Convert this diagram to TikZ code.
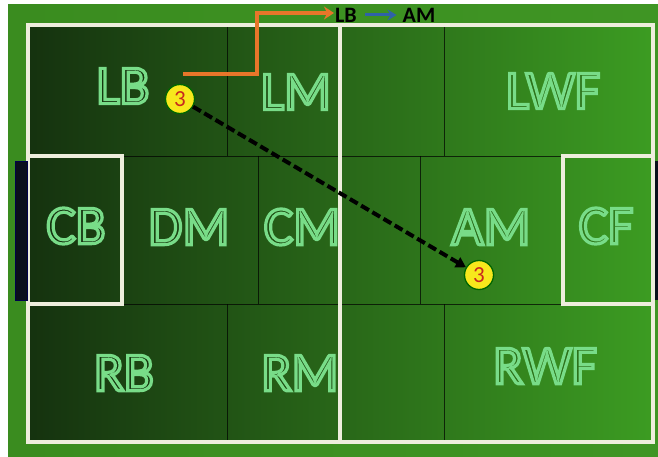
\documentclass[tikz,border=0pt]{standalone}
\usepackage{fontspec}
\setmainfont{Carlito}
\usetikzlibrary{arrows.meta,calc}
\definecolor{outerg}{HTML}{3A8C1F}
\definecolor{outerg2}{HTML}{3F9524}
\definecolor{pitchL}{HTML}{15320F}
\definecolor{pitchR}{HTML}{3C9C22}
\definecolor{lineW}{HTML}{EEEEDD}
\definecolor{outl}{HTML}{78DC88}
\definecolor{orangeA}{HTML}{E8762A}
\definecolor{blueA}{HTML}{2F62A8}
\definecolor{ballY}{HTML}{F7E81C}
\definecolor{numR}{HTML}{C8281E}
\definecolor{goalC}{HTML}{0A0F1C}
\def\commatospace#1,#2,#3\relax{#1 #2 #3}
\newcommand\outlinetext[2]{%
  \extractcolorspecs{#2}\lblmodel\lblspec
  \convertcolorspec{\lblmodel}{\lblspec}{rgb}\lblrgb
  \special{pdf:code 2 Tr 3.2 w \expandafter\commatospace\lblrgb\relax\space rg}#1\special{pdf:code 0 Tr 0.39848 w}}
\newcommand\zonelabel[4]{%
  \node[postxt] (#2) at (#1) {\outlinetext{#3}{#4}};
}
\begin{document}
\begin{tikzpicture}[x=1pt,y=-1pt,
  pline/.style={draw=lineW, line width=3.2pt},
  zone/.style={draw=black, line width=0.6pt, opacity=0.7},
  postxt/.style={font=\fontsize{55}{55}\selectfont, text=outl, inner sep=0pt, anchor=center},
  ball/.style={circle, fill=ballY, draw=black!60!green, line width=1.3pt, minimum size=29pt, inner sep=0pt, text=numR, font=\fontsize{23}{23}\selectfont},
  toptxt/.style={font=\fontsize{22}{22}\selectfont\bfseries, text=black, inner sep=1pt}
]
\useasboundingbox (0,0) rectangle (658,457);
\fill[white] (0,0) rectangle (658,457);
% outer field
\shade[left color=outerg, right color=outerg2] (8,5) rectangle (658,457);
% pitch gradient
\shade[left color=pitchL, right color=pitchR] (28,25) rectangle (653,442);
% zone lines
\draw[zone] (28,156) -- (653,156);
\draw[zone] (28,304) -- (653,304);
\draw[zone] (227,25) -- (227,156);
\draw[zone] (444,25) -- (444,156);
\draw[zone] (258,156) -- (258,304);
\draw[zone] (420,156) -- (420,304);
\draw[zone] (227,304) -- (227,442);
\draw[zone] (444,304) -- (444,442);
% labels
\zonelabel{123,86}{LB}{LB}{pitchR!15!pitchL!82!black}
\zonelabel{296,92}{LM}{LM}{pitchR!43!pitchL!82!black}
\zonelabel{553,91}{LWF}{LWF}{pitchR!84!pitchL!82!black}
\zonelabel{76,226}{CB}{CB}{pitchR!8!pitchL!82!black}
\zonelabel{189,227}{DM}{DM}{pitchR!26!pitchL!82!black}
\zonelabel{302,227}{CM}{CM}{pitchR!44!pitchL!82!black}
\zonelabel{491,227}{AM}{AM}{pitchR!74!pitchL!82!black}
\zonelabel{606,226}{CF}{CF}{pitchR!92!pitchL!82!black}
\zonelabel{124,373}{RB}{RB}{pitchR!15!pitchL!82!black}
\zonelabel{300,373}{RM}{RM}{pitchR!44!pitchL!82!black}
\zonelabel{545,366}{RWF}{RWF}{pitchR!83!pitchL!82!black}
% white markings
\draw[pline] (28,25) rectangle (653,442);
\draw[pline] (340,25) -- (340,442);
\draw[pline] (28,156) rectangle (122,304);
\draw[pline] (563,156) rectangle (653,304);
% goals
\filldraw[fill=goalC, draw=blue!30!black, line width=0.6pt] (15,161) rectangle (27,300);
\fill[goalC] (655,161) rectangle (658,300);
% balls
\node[ball] (b1) at (180,99) {3};
\node[ball] (b2) at (479,275) {3};
\draw[black, line width=4pt, dash pattern=on 9pt off 4pt, -{Triangle[length=10pt,width=11pt]}] (b1) -- (b2);
% top legend
\node[toptxt] (lbt) at (346,15) {LB};
\node[toptxt] (amt) at (419,15) {AM};
\draw[blueA, line width=3pt, -{Stealth[length=9pt,width=11pt]}] ([xshift=7pt]lbt.east) -- ([xshift=-5pt]amt.west);
\coordinate (os) at (183,74);
\coordinate (oc1) at (257,74);
\coordinate (oc2) at (257,13);
\draw[orangeA, line width=4pt, -{Stealth[length=10pt,width=13pt]}] (os) -- (oc1) -- (oc2) -- (lbt.west |- oc2);
\end{tikzpicture}
\end{document}
